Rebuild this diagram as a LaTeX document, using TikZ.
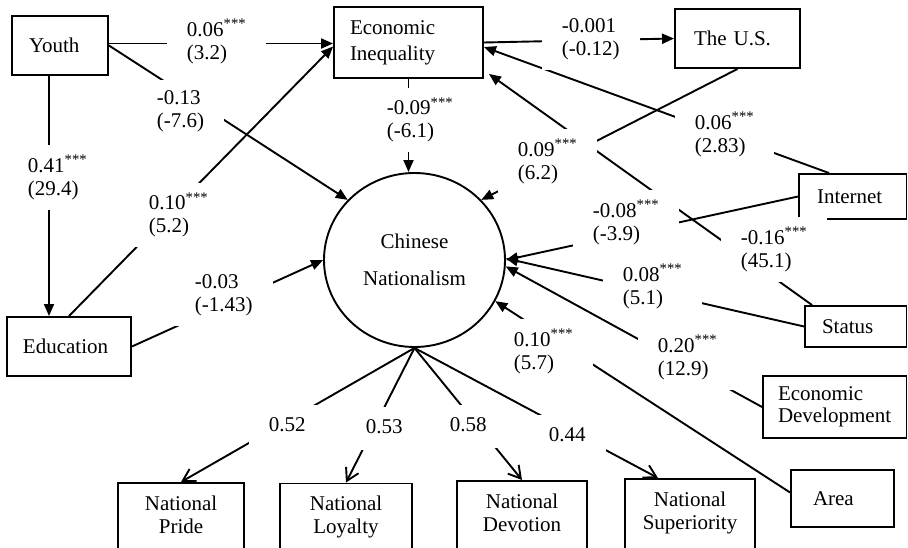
\documentclass[tikz,border=0pt]{standalone}
\usepackage{fontspec}
\setmainfont{Liberation Serif}
\usetikzlibrary{arrows.meta,shapes.geometric}
\newcommand\sigstars{\textsuperscript{***}}
\begin{document}
\begin{tikzpicture}[x=1pt,y=-1pt,line width=1.9pt,
  font=\fontsize{21pt}{23pt}\selectfont,
  box/.style={draw,align=left,inner ysep=0pt},
  ind/.style={draw,align=center,anchor=north,inner xsep=0pt,inner ysep=0pt,text height=27.5pt,text depth=90pt},
  lab/.style={fill=white,inner xsep=20pt,inner ysep=10pt,anchor=west,xshift=-20pt,align=left},
  arr/.style={-{Triangle[length=12pt,width=10pt]}},
  barb/.style={-{Straight Barb[length=12pt,width=14pt]}}]
\useasboundingbox (0,0) rectangle (908,548);
\clip (0,0) rectangle (908,548);
% boxes
\node[box,text width=62pt,inner xsep=17pt,minimum height=59pt] (Y) at (60,45.5) {Youth};
\node[box,text width=117pt,inner xsep=16pt,minimum height=71pt] (EI) at (408.5,42.5) {Economic\\[3pt]Inequality};
\node[box,text width=87pt,inner xsep=19pt,minimum height=59pt] (US) at (737.5,38.5) {The U.S.};
\node[box,text width=71.5pt,inner xsep=18pt,minimum height=45pt] (IN) at (852.75,196.5) {Internet};
\node[box,text width=67.5pt,inner xsep=17pt,minimum height=41pt] (ST) at (855.75,326.5) {Status};
\node[box,text width=113.5pt,inner xsep=15pt,minimum height=62pt] (ED) at (834.75,407) {Economic\\[-1pt]Development};
\node[box,text width=59pt,inner xsep=22pt,minimum height=57pt] (AR) at (842.5,498.5) {Area};
\node[box,text width=92pt,inner xsep=16pt,minimum height=59pt] (Edu) at (69,346.5) {Education};
\node[draw,ellipse,minimum width=181pt,minimum height=174pt,inner sep=0pt,align=center] (CN) at (414.5,260) {Chinese\\[14pt]Nationalism};
\node[ind,text width=126pt] (NP) at (181,482) {National\\Pride};
\node[ind,text width=132pt] (NL) at (346,482.5) {National\\Loyalty};
\node[ind,text width=130pt] (ND) at (522,480) {National\\Devotion};
\node[ind,text width=130pt] (NS) at (690,478) {National\\Superiority};
% connectors
\draw[arr] ([yshift=2pt]Y.east) -- ([yshift=2pt]Y.east -| EI.west);
\draw[arr] (Y.east) -- (CN.138);
\draw[arr] ([xshift=-11pt]Y.south) -- ([xshift=-11pt]Y.south |- Edu.north);
\draw[arr] (Edu.north) -- ([yshift=-4pt]EI.west);
\draw[arr] (Edu.east) -- (CN.180);
\draw[arr] (EI.south) -- (EI.south |- CN.north);
\draw[arr] (EI.east) -- (US.west);
\draw[arr] (US.south) -- (CN.42);
\draw[arr] ([xshift=31pt]IN.north west) -- ([yshift=-4.5pt]EI.east);
\draw[arr] (IN.west) -- (CN.0);
\draw[arr] ([xshift=8pt]ST.north west) -- ([xshift=5pt,yshift=5pt]EI.south east);
\draw[arr] (ST.west) -- (CN.1);
\draw[arr] (ED.west) -- (CN.-4);
\draw[arr] ([yshift=6pt]AR.west) -- (CN.-27);
\draw[barb] (CN.south) -- (NP.north);
\draw[barb] (CN.south) -- (NL.north);
\draw[barb] (CN.south) -- (ND.north);
\draw[barb] (CN.south) -- ([xshift=-32pt]NS.north);
% labels
\node[lab] (l1) at (186,41.5) {0.06\sigstars\\(3.2)};
\node[lab] (l2) at (156,111) {-0.13\\(-7.6)};
\node[lab] (l3) at (27,177.5) {0.41\sigstars\\(29.4)};
\node[lab] (l4) at (148,215) {0.10\sigstars\\(5.2)};
\node[lab] (l5) at (194,295) {-0.03\\(-1.43)};
\node[lab] (l6) at (386,120) {-0.09\sigstars\\(-6.1)};
\node[lab] (l7) at (561,39.5) {-0.001\\(-0.12)};
\node[lab] (l8) at (517,161.5) {0.09\sigstars\\(6.2)};
\node[lab] (l9) at (694,134.5) {0.06\sigstars\\(2.83)};
\node[lab] (l10) at (592,222.5) {-0.08\sigstars\\(-3.9)};
\node[lab] (l11) at (740,249.5) {-0.16\sigstars\\(45.1)};
\node[lab] (l12) at (622,286.5) {0.08\sigstars\\(5.1)};
\node[lab] (l13) at (513,351.5) {0.10\sigstars\\(5.7)};
\node[lab] (l14) at (657,357.5) {0.20\sigstars\\(12.9)};
\node[lab] (l15) at (268,426.4) {\strut 0.52};
\node[lab] (l16) at (365,428.4) {\strut 0.53};
\node[lab] (l17) at (449,426.4) {\strut 0.58};
\node[lab] (l18) at (548,436.4) {\strut 0.44};
\end{tikzpicture}
\end{document}
